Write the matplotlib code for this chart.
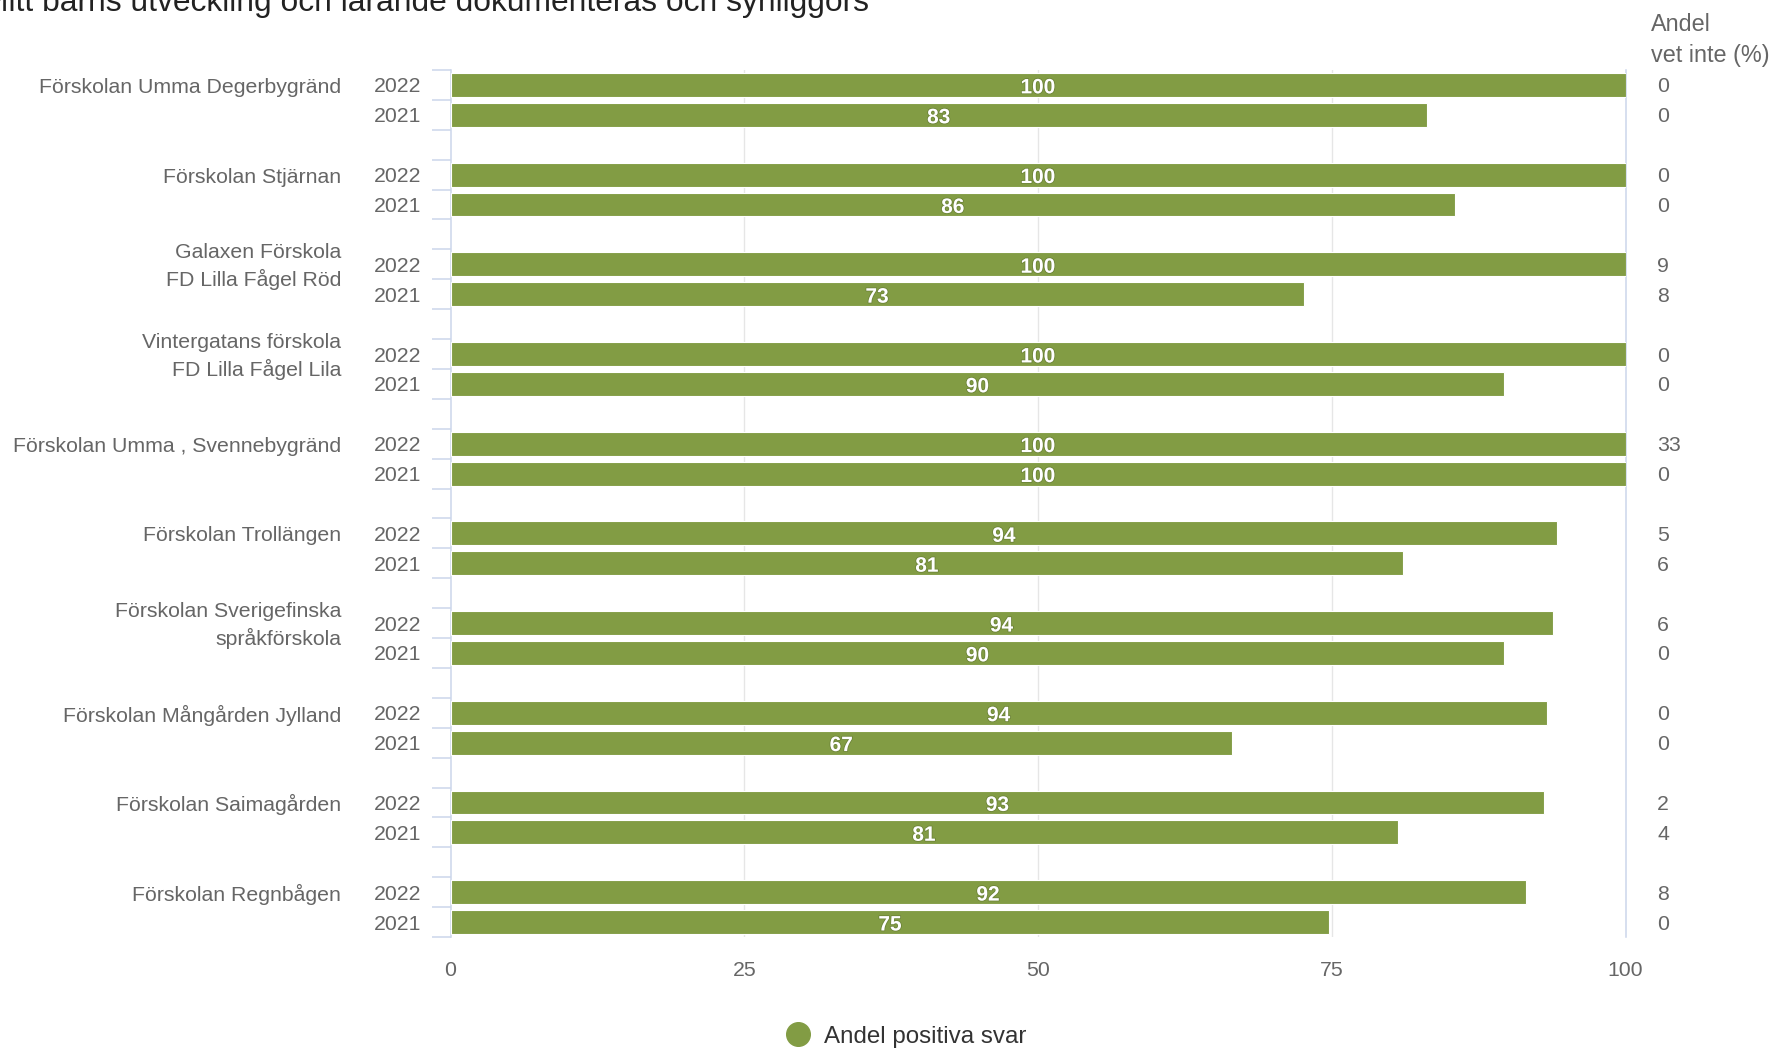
import matplotlib
matplotlib.use("Agg")
import matplotlib.pyplot as plt
from matplotlib.lines import Line2D
from matplotlib.transforms import blended_transform_factory
import matplotlib.patheffects as pe

plt.rcParams['font.family'] = ['Liberation Sans', 'DejaVu Sans']

title = "Mitt barns utveckling och lärande dokumenteras och synliggörs"
schools = [
    "Förskolan Umma Degerbygränd",
    "Förskolan Stjärnan",
    "Galaxen Förskola\nFD Lilla Fågel Röd",
    "Vintergatans förskola\nFD Lilla Fågel Lila",
    "Förskolan Umma , Svennebygränd",
    "Förskolan Trollängen",
    "Förskolan Sverigefinska\nspråkförskola",
    "Förskolan Mångården Jylland",
    "Förskolan Saimagården",
    "Förskolan Regnbågen",
]
years = ["2022", "2021"]
# bar lengths
pos_2022 = [100, 100, 100, 100, 100, 94.2, 93.8, 93.3, 93.1, 91.5]
pos_2021 = [83.1, 85.5, 72.6, 89.7, 100, 81.1, 89.7, 66.5, 80.6, 74.8]
# printed data labels
lab_2022 = [100, 100, 100, 100, 100, 94, 94, 94, 93, 92]
lab_2021 = [83, 86, 73, 90, 100, 81, 90, 67, 81, 75]
# "Andel vet inte (%)" column
vet_2022 = [0, 0, 9, 0, 33, 5, 6, 0, 2, 8]
vet_2021 = [0, 0, 8, 0, 0, 6, 0, 0, 4, 0]
xticks = [0, 25, 50, 75, 100]
series_name = "Andel positiva svar"
right_header = "Andel\nvet inte (%)"

W, H = 1777, 1050
GREEN = '#829c44'
GRAY = '#666666'
AXC = '#ccd6eb'

fig = plt.figure(figsize=(W / 100, H / 100), dpi=100)
ax = fig.add_axes([450.5 / W, 1 - 937 / H, (1625.5 - 450.5) / W, (937 - 70) / H])

n = len(schools)
nslots = 3 * n - 1
ax.set_ylim(nslots - 0.5, -0.5)
ax.set_xlim(0, 100)

fs = 15.3
for i in range(n):
    y22 = 3 * i
    y21 = 3 * i + 1
    for y, v, lab in ((y22, pos_2022[i], lab_2022[i]), (y21, pos_2021[i], lab_2021[i])):
        ax.barh(y, v, height=0.8, color=GREEN, edgecolor='white', linewidth=0.8, zorder=3)
        t = ax.text(v / 2, y + 0.03, str(lab), ha='center', va='center_baseline', color='white',
                    fontsize=15, fontweight='bold', zorder=4)
        t.set_path_effects([pe.withStroke(linewidth=1.2, foreground='#3a4a1a', alpha=0.3)])

# grid
for xv in xticks[1:-1]:
    ax.axvline(xv, color='#e6e6e6', linewidth=1.0, zorder=1)

# axis lines
for s in ['top', 'bottom']:
    ax.spines[s].set_visible(False)
ax.spines['left'].set_color(AXC)
ax.spines['left'].set_linewidth(1.1)
ax.spines['right'].set_color(AXC)
ax.spines['right'].set_linewidth(1.1)

ax.set_yticks([k - 0.5 for k in range(nslots + 1)])
ax.set_yticklabels([])
ax.tick_params(axis='y', length=13.5, width=1.1, color=AXC, left=True, right=False)

ax.set_xticks(xticks)
ax.set_xticklabels([str(x) for x in xticks])
ax.tick_params(axis='x', length=0, labelsize=fs, labelcolor=GRAY, pad=(968 - 937) * 0.72 - 5)

tr = blended_transform_factory(fig.transFigure, ax.transData)
for i in range(n):
    y22 = 3 * i
    y21 = 3 * i + 1
    ax.text(341 / W, y22 + 0.08, schools[i], transform=tr, ha='right', va='center',
            fontsize=fs, color=GRAY, linespacing=1.4, multialignment='right')
    ax.text(421 / W, y22, years[0], transform=tr, ha='right', va='center_baseline', fontsize=fs, color=GRAY)
    ax.text(421 / W, y21, years[1], transform=tr, ha='right', va='center_baseline', fontsize=fs, color=GRAY)
    ax.text(1657 / W, y22, str(vet_2022[i]), transform=tr, ha='left', va='center_baseline', fontsize=fs, color=GRAY)
    ax.text(1657 / W, y21, str(vet_2021[i]), transform=tr, ha='left', va='center_baseline', fontsize=fs, color=GRAY)

fig.text(1651 / W, 1 - 40 / H, right_header, ha='left', va='center', fontsize=16.8,
         color=GRAY, linespacing=1.45)

fig.text(869 / W, 1 - 11 / H, title, ha='right', va='baseline', fontsize=22.9, color='#222222')

handle = Line2D([], [], marker='o', linestyle='none', markersize=17, color=GREEN)
fig.legend([handle], [series_name], loc='center', bbox_to_anchor=(906 / W, 1 - 1036.5 / H),
           frameon=False, fontsize=17.4, labelcolor='#333333', handlelength=1.0,
           handletextpad=0.6, borderpad=0)

fig.savefig('out.png', dpi=100)
